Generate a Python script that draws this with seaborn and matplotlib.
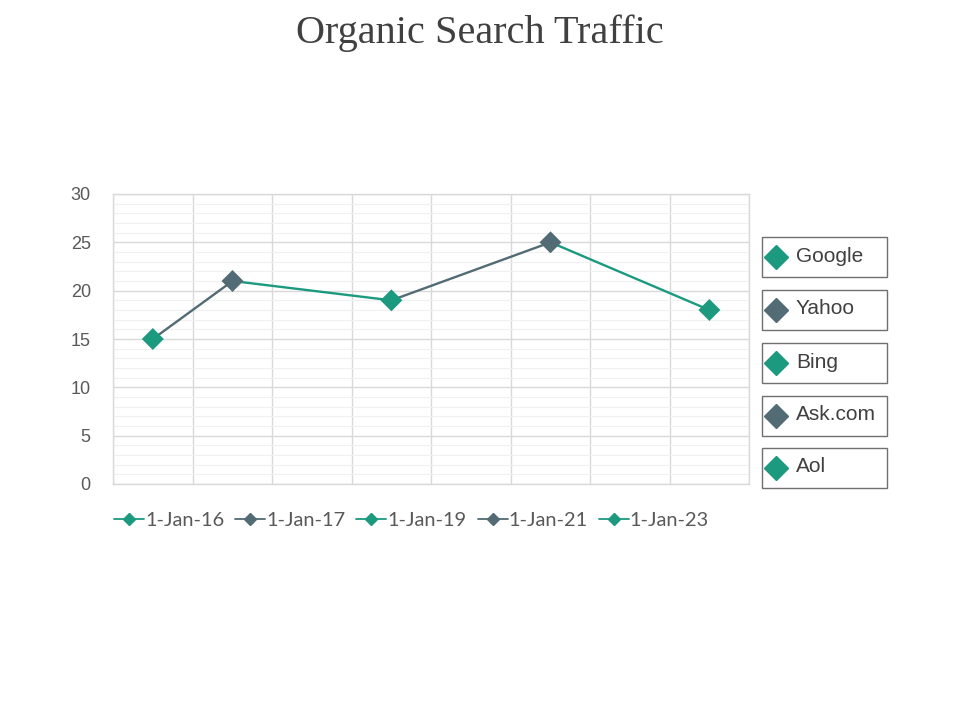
import matplotlib
matplotlib.use("Agg")
import matplotlib.pyplot as plt
import matplotlib.dates as mdates
from matplotlib.patches import Rectangle
from matplotlib.lines import Line2D
import seaborn as sns
import pandas as pd

# Chart data
dates = ["2016-01-01", "2017-01-01", "2019-01-01", "2021-01-01", "2023-01-01"]
date_labels = ["1-Jan-16", "1-Jan-17", "1-Jan-19", "1-Jan-21", "1-Jan-23"]
engines = ["Google", "Yahoo", "Bing", "Ask.com", "Aol"]
traffic = [15, 21, 19, 25, 18]

teal = "#1b9a80"
slate = "#526b74"
point_colors = [teal, slate, teal, slate, teal]

df = pd.DataFrame({"date": pd.to_datetime(dates), "traffic": traffic,
                   "engine": engines, "label": date_labels})

sns.set_theme(style="white")
plt.rcParams['font.family'] = ['Liberation Sans', 'DejaVu Sans']

fig = plt.figure(figsize=(9.6, 7.2), dpi=100)
ax = fig.add_axes([113 / 960, 1 - 484 / 720, 636 / 960, 290 / 720])

# Segments take the colour of the point they lead to
for i in range(1, len(df)):
    seg = df.iloc[i - 1:i + 1]
    sns.lineplot(data=seg, x="date", y="traffic", color=point_colors[i],
                 linewidth=1.7, ax=ax, zorder=3)

sns.scatterplot(data=df, x="date", y="traffic", hue="engine",
                palette=dict(zip(engines, point_colors)), marker="D",
                s=125, edgecolor="none", ax=ax, zorder=4, legend=False)

ax.set_xlim(pd.Timestamp("2015-07-02"), pd.Timestamp("2023-07-02"))
ax.set_ylim(0, 30)
ax.set_yticks(range(0, 31, 5))
ax.set_yticks(range(0, 31, 1), minor=True)
ax.xaxis.set_major_locator(mdates.MonthLocator(bymonth=7, bymonthday=2))
ax.set_xticklabels([])
ax.grid(True, which="major", color="#d9d9d9", linewidth=1)
ax.grid(True, which="minor", axis="y", color="#f0f0f0", linewidth=0.8)
ax.tick_params(axis="both", which="both", length=0)
ax.tick_params(axis="y", labelsize=13, labelcolor="#595959", pad=16)
ax.set_xlabel("")
ax.set_ylabel("")
for s in ax.spines.values():
    s.set_color("#d9d9d9")
    s.set_linewidth(1)

# Bottom legend: one entry per date
handles = [Line2D([0], [0], color=c, marker="D", markersize=6, linewidth=1.3)
           for c in point_colors]
leg = fig.legend(handles, date_labels, loc="center left",
                 bbox_to_anchor=(96 / 960, 1 - 520 / 720), ncol=5,
                 frameon=False, handlelength=1.5, handletextpad=0.05,
                 columnspacing=0.55, prop={"family": "Lato", "size": 14.4})
for t in leg.get_texts():
    t.set_color("#595959")

# Right side boxes with diamond markers
box_tops = [237, 290, 343, 396, 448]
for name, c, top in zip(engines, point_colors, box_tops):
    fig.add_artist(Rectangle((762 / 960, 1 - (top + 40) / 720), 125 / 960, 40 / 720,
                             transform=fig.transFigure, facecolor="white",
                             edgecolor="#707070", linewidth=1))
    fig.add_artist(Line2D([776 / 960], [1 - (top + 20) / 720], marker="D",
                          markersize=12, color=c, linestyle="none",
                          transform=fig.transFigure))
    fig.text(796 / 960, 1 - (top + 19) / 720, name, fontsize=15,
             color="#404040", va="center", ha="left")

fig.text(0.5, 1 - 33 / 720, "Organic Search Traffic", ha="center", va="center",
         fontsize=29, color="#404040", family=["Liberation Serif", "DejaVu Serif"])

fig.savefig("out.png", dpi=100, facecolor="white")
